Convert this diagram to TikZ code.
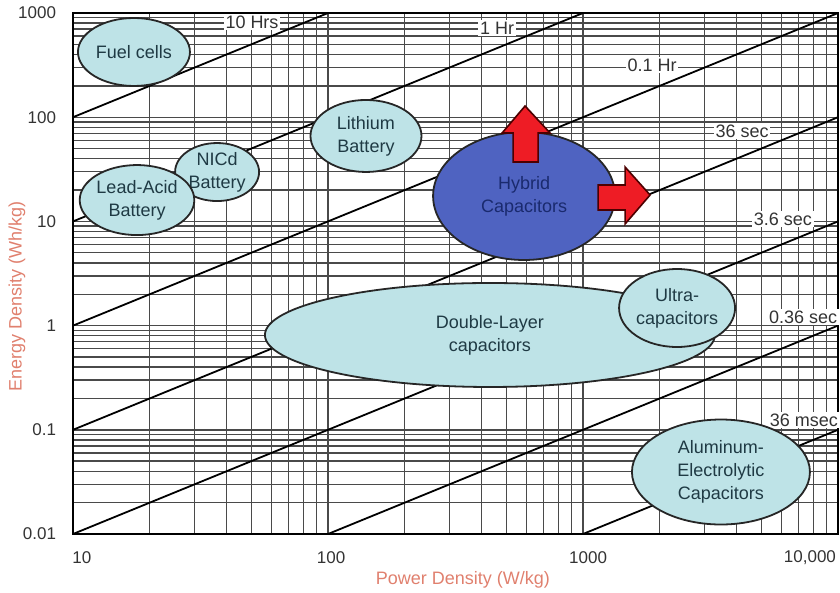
\documentclass[tikz,border=0pt]{standalone}
\usepackage{fontspec}
\setmainfont{Liberation Sans}
\usetikzlibrary{shapes.geometric}

\definecolor{cellfill}{HTML}{BEE3E7}
\definecolor{hybfill}{HTML}{4F63C1}
\definecolor{pushred}{HTML}{EE1C25}
\definecolor{axistitle}{HTML}{E0806E}
\definecolor{ticktext}{HTML}{333333}
\definecolor{celltext}{HTML}{1F3A44}
\definecolor{hybtext}{HTML}{1A2A6E}
\definecolor{gridgray}{HTML}{4A4A4A}

\tikzset{
	gridline/.style={gridgray, line width=0.7pt},
	timeline/.style={black, line width=0.9pt},
	timelabel/.style={fill=white, inner sep=0.8pt, text=black!80, font=\fontsize{9pt}{11pt}\selectfont},
	device/.style={ellipse, draw=black!85, line width=0.9pt, fill=cellfill, inner sep=0pt, align=center, text=celltext, font=\fontsize{9pt}{11.5pt}\selectfont},
	ticklabel/.style={text=ticktext, font=\fontsize{8.5pt}{10pt}\selectfont},
	axislabel/.style={text=axistitle, font=\fontsize{9pt}{11pt}\selectfont},
	pusharrow/.style={fill=pushred, draw=black!70!red, line width=0.8pt, line join=miter},
}

\begin{document}
\begin{tikzpicture}[x=127.5pt, y=52.1pt]
	\useasboundingbox (0.7137,-2.557) rectangle (4.008,3.125);
	\foreach \d in {1,2,3}
		\foreach \i in {2,...,10}
			\draw[gridline] ({\d+ln(\i)/ln(10)},-2) -- ({\d+ln(\i)/ln(10)},3);
	\foreach \d in {-2,...,2}
		\foreach \i in {2,...,10}
			\draw[gridline] (1,{\d+ln(\i)/ln(10)}) -- (4,{\d+ln(\i)/ln(10)});
	\draw[black, line width=1pt] (1,-2) rectangle (4,3);
	\draw[timeline] (1,2) -- (2,3);
	\draw[timeline] (1,1) -- (3,3);
	\draw[timeline] (1,0) -- (4,3);
	\draw[timeline] (1,-1) -- (4,2);
	\draw[timeline] (1,-2) -- (4,1);
	\draw[timeline] (2,-2) -- (4,0);
	\draw[timeline] (3,-2) -- (4,-1);
	\node[timelabel] (t10h) at (1.702,2.914) {10 Hrs};
	\node[timelabel] (t1h) at (2.663,2.856) {1 Hr};
	\node[timelabel] (t01h) at (3.271,2.501) {0.1 Hr};
	\node[timelabel] (t36s) at (3.624,1.868) {36 sec};
	\node[timelabel] (t3s) at (3.784,1.023) {3.6 sec};
	\node[timelabel, anchor=west] (t036s) at (3.722,0.083) {0.36 sec};
	\node[timelabel, anchor=west] (t36ms) at (3.725,-0.906) {36 msec};
	\node[device, minimum width=56pt, minimum height=34pt] (fuel) at (1.239,2.626) {Fuel cells};
	\node[device, minimum width=42pt, minimum height=29pt] (nicd) at (1.565,1.474) {NICd\\Battery};
	\node[device, minimum width=55pt, minimum height=35pt] (lead) at (1.251,1.205) {Lead-Acid\\Battery};
	\node[device, minimum width=55.5pt, minimum height=36pt] (lith) at (2.149,1.820) {Lithium\\Battery};
	\node[device, fill=hybfill, text=hybtext, minimum width=91pt, minimum height=64pt] (hyb) at (2.769,1.244) {Hybrid\\Capacitors};
	\node[device, minimum width=225pt, minimum height=52pt] (edlc) at (2.635,-0.090) {Double-Layer\\capacitors};
	\node[device, minimum width=57.5pt, minimum height=39pt] (ultra) at (3.369,0.169) {Ultra-\\capacitors};
	\node[device, minimum width=89pt, minimum height=52.5pt] (alu) at (3.541,-1.405) {Aluminum-\\Electrolytic\\Capacitors};
	\begin{scope}[shift={(hyb.center)}]
		\draw[pusharrow] (-5.5pt,17pt) -- (-5.5pt,31.5pt) -- (-11pt,31.5pt) -- (0.5pt,45pt) -- (13pt,31.5pt) -- (7pt,31.5pt) -- (7pt,17pt) -- cycle;
		\draw[pusharrow] (37pt,5.5pt) -- (50.5pt,5.5pt) -- (50.5pt,14.5pt) -- (63pt,0.5pt) -- (50.5pt,-14pt) -- (50.5pt,-7pt) -- (37pt,-7pt) -- cycle;
	\end{scope}
	\node[ticklabel, anchor=east] (e1000) at (0.961,3) {1000};
	\node[ticklabel, anchor=east] (e100) at (0.961,2) {100};
	\node[ticklabel, anchor=east] (e10) at (0.961,1) {10};
	\node[ticklabel, anchor=east] (e1) at (0.961,0) {1};
	\node[ticklabel, anchor=east] (e01) at (0.961,-1) {0.1};
	\node[ticklabel, anchor=east] (e001) at (0.961,-2) {0.01};
	\node[ticklabel] (p10) at (1.035,-2.23) {10};
	\node[ticklabel] (p100) at (2.012,-2.23) {100};
	\node[ticklabel] (p1000) at (3.02,-2.23) {1000};
	\node[ticklabel] (p10000) at (3.890,-2.23) {10,000};
	\node[axislabel] (ptitle) at (2.529,-2.441) {Power Density (W/kg)};
	\node[axislabel, rotate=90] (etitle) at (0.780,0.284) {Energy Density (Wh/kg)};
\end{tikzpicture}
\end{document}
